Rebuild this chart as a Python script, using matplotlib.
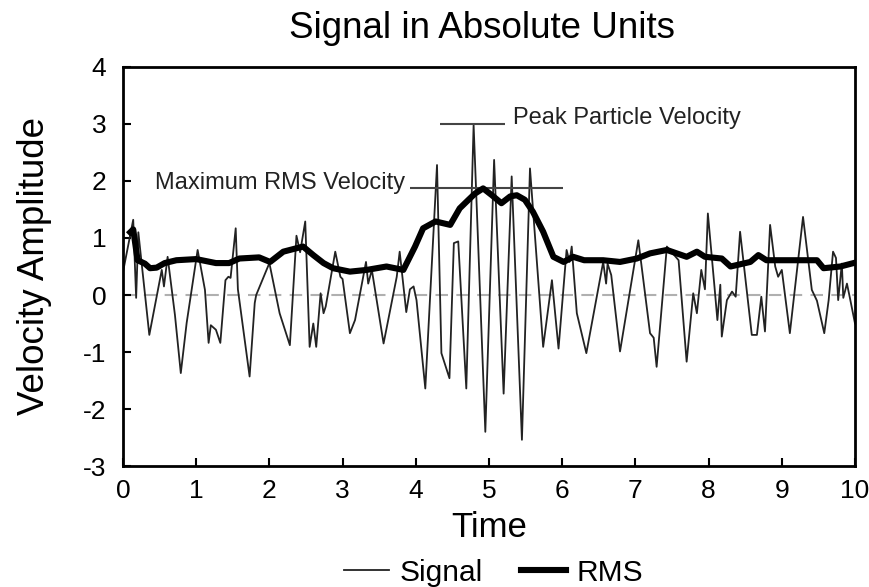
import matplotlib
matplotlib.use("Agg")
import matplotlib.pyplot as plt

plt.rcParams['font.family'] = ['Liberation Sans', 'DejaVu Sans']
plt.rcParams['axes.unicode_minus'] = False

# Signal trace (time, velocity)
sig_t = [0.00, 0.14, 0.18, 0.21, 0.36, 0.53, 0.56, 0.61, 0.71, 0.79, 0.87, 1.02, 1.12, 1.17,
         1.20, 1.27, 1.33, 1.40, 1.44, 1.47, 1.54, 1.57, 1.73, 1.80, 1.82, 2.00, 2.14, 2.28,
         2.37, 2.42, 2.49, 2.55, 2.60, 2.64, 2.70, 2.74, 2.77, 2.90, 2.97, 3.00, 3.10, 3.17,
         3.32, 3.35, 3.40, 3.56, 3.74, 3.78, 3.87, 3.92, 3.97, 4.01, 4.13, 4.29, 4.35, 4.46,
         4.52, 4.58, 4.69, 4.79, 4.95, 5.07, 5.20, 5.31, 5.45, 5.56, 5.74, 5.86, 5.95, 6.06,
         6.10, 6.13, 6.20, 6.33, 6.56, 6.60, 6.62, 6.67, 6.79, 7.04, 7.20, 7.25, 7.29, 7.43,
         7.59, 7.70, 7.79, 7.84, 7.90, 7.95, 7.99, 8.08, 8.12, 8.16, 8.18, 8.25, 8.32, 8.37,
         8.43, 8.59, 8.66, 8.72, 8.77, 8.84, 8.91, 8.95, 9.00, 9.11, 9.29, 9.41, 9.48, 9.58,
         9.64, 9.70, 9.74, 9.77, 9.82, 9.84, 9.89, 9.93, 10.00]
sig_v = [0.40, 1.32, -0.05, 1.10, -0.70, 0.44, 0.15, 0.67, -0.35, -1.37, -0.49, 0.79, 0.09, -0.84,
         -0.53, -0.61, -0.84, 0.26, 0.32, 0.30, 1.17, 0.10, -1.43, -0.14, 0.00, 0.56, -0.32, -0.88,
         1.04, 0.75, 1.29, -0.91, -0.50, -0.91, 0.03, -0.32, -0.20, 0.76, 0.32, 0.28, -0.67, -0.44,
         0.58, 0.20, 0.44, -0.85, 0.32, 0.76, -0.30, 0.10, 0.15, -0.09, -1.64, 2.28, -1.02, -1.46,
         0.91, 0.94, -1.64, 2.98, -2.40, 2.37, -1.73, 2.08, -2.54, 2.22, -0.91, 0.26, -0.94, 0.79,
         0.58, 0.85, -0.32, -1.02, 0.58, 0.20, 0.55, 0.35, -0.99, 0.96, -0.67, -0.75, -1.26, 0.85,
         0.61, -1.17, 0.03, -0.32, 0.44, 0.10, 1.43, 0.15, -0.44, 0.18, -0.73, -0.09, 0.06, -0.03,
         1.11, -0.70, -0.70, -0.03, -0.64, 1.23, 0.50, 0.32, 0.44, -0.67, 1.37, 0.09, -0.10, -0.67,
         -0.09, 0.76, 0.65, -0.09, 0.55, -0.05, 0.20, -0.05, -0.50]

# RMS envelope
rms_t = [0.10, 0.14, 0.20, 0.30, 0.37, 0.46, 0.57, 0.73, 1.00, 1.27, 1.45, 1.59, 1.86, 2.01,
         2.19, 2.46, 2.60, 2.74, 2.87, 3.10, 3.33, 3.60, 3.83, 3.99, 4.10, 4.27, 4.47, 4.60,
         4.72, 4.81, 4.92, 5.04, 5.17, 5.29, 5.38, 5.49, 5.60, 5.74, 5.88, 6.02, 6.15, 6.30,
         6.56, 6.79, 7.02, 7.20, 7.43, 7.70, 7.84, 7.95, 8.18, 8.30, 8.57, 8.68, 8.79, 9.16,
         9.48, 9.57, 9.80, 9.98]
rms_v = [1.10, 1.15, 0.61, 0.55, 0.47, 0.48, 0.56, 0.61, 0.63, 0.56, 0.56, 0.64, 0.66, 0.58,
         0.76, 0.85, 0.70, 0.56, 0.47, 0.41, 0.44, 0.50, 0.44, 0.85, 1.17, 1.29, 1.23, 1.52,
         1.67, 1.78, 1.87, 1.75, 1.61, 1.73, 1.75, 1.67, 1.46, 1.11, 0.67, 0.58, 0.67, 0.61,
         0.61, 0.58, 0.64, 0.73, 0.79, 0.67, 0.76, 0.67, 0.64, 0.50, 0.58, 0.70, 0.61, 0.61,
         0.61, 0.47, 0.50, 0.56]

x_ticks = [0, 1, 2, 3, 4, 5, 6, 7, 8, 9, 10]
y_ticks = [-3, -2, -1, 0, 1, 2, 3, 4]

peak_value = 3.0
peak_span = (4.33, 5.22)
max_rms_value = 1.88
max_rms_span = (3.92, 6.01)

fig = plt.figure(figsize=(8.69, 5.87), dpi=100)
ax = fig.add_axes([0.1415, 0.2061, 0.8424, 0.6798])

ax.axhline(0, color='#b0b0b0', lw=1.5, ls=(0, (6, 4)), zorder=1)
l1, = ax.plot(sig_t, sig_v, color='#222222', lw=1.3, zorder=2, label='Signal')
l2, = ax.plot(rms_t, rms_v, color='black', lw=4.4, zorder=3, label='RMS', solid_joinstyle='round')

ax.hlines(peak_value, *peak_span, color='#444444', lw=1.5, zorder=2)
ax.hlines(max_rms_value, *max_rms_span, color='#444444', lw=1.5, zorder=2)
ax.text(5.33, 3.10, 'Peak Particle Velocity', fontsize=17, va='center', ha='left', color='#222222')
ax.text(3.85, 1.96, 'Maximum RMS Velocity', fontsize=17, va='center', ha='right', color='#222222')

ax.set_xlim(0, 10)
ax.set_ylim(-3, 4)
ax.set_xticks(x_ticks)
ax.set_yticks(y_ticks)
ax.tick_params(direction='in', length=6, width=1.5, labelsize=19)
ax.tick_params(axis='x', pad=9)
ax.tick_params(axis='y', pad=12)
for s in ax.spines.values():
    s.set_linewidth(2)

ax.set_title('Signal in Absolute Units', fontsize=26.5, pad=21, x=0.49)
ax.set_xlabel('Time', fontsize=25, labelpad=6)
ax.set_ylabel('Velocity Amplitude', fontsize=26.5, labelpad=22)

fig.legend(handles=[l1, l2], loc='lower center', bbox_to_anchor=(0.568, -0.045), ncol=2,
           frameon=False, fontsize=21.5, handlelength=1.5, handletextpad=0.35, columnspacing=1.3)

fig.savefig('out.png', dpi=100)
